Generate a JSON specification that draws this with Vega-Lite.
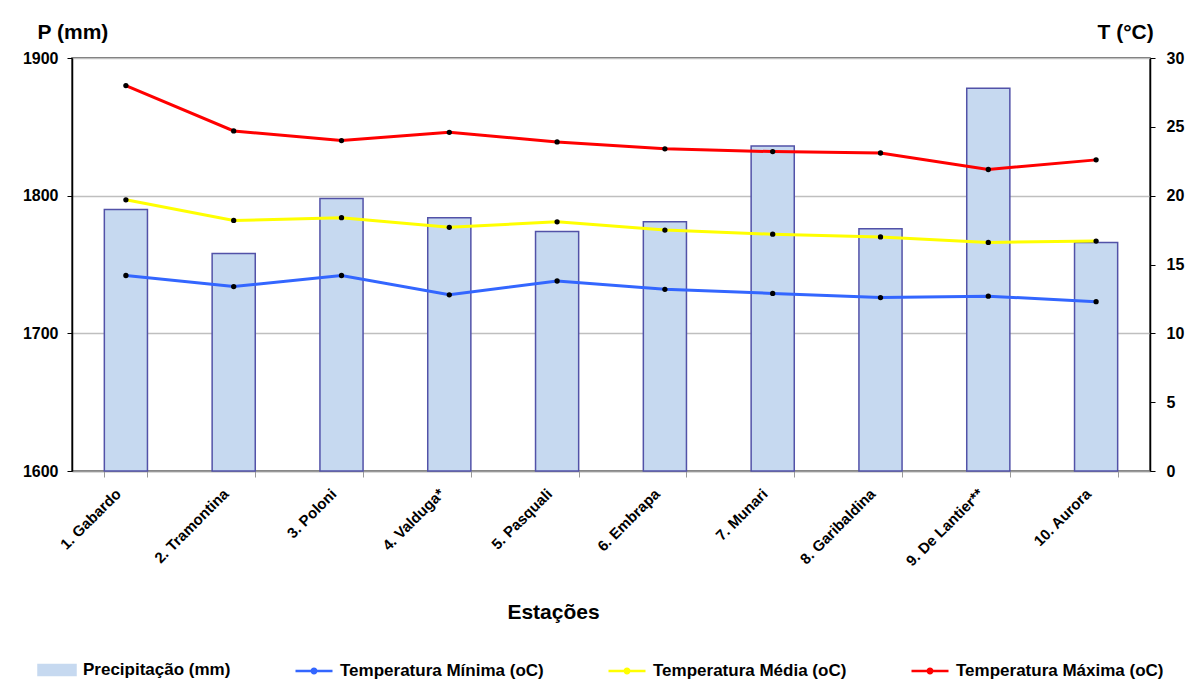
{
  "$schema": "https://vega.github.io/schema/vega-lite/v6.json",
  "width": 1078,
  "height": 413,
  "autosize": {"type": "none"},
  "padding": {"left": 72, "top": 58, "right": 43, "bottom": 226},
  "background": "white",
  "config": {
    "font": "Liberation Sans",
    "view": {"stroke": "#404040", "strokeWidth": 1.5},
    "axis": {
      "labelFont": "Liberation Sans",
      "labelFontWeight": "bold",
      "labelFontSize": 15,
      "labelColor": "black",
      "titleFont": "Liberation Sans",
      "titleFontWeight": "bold",
      "titleColor": "black"
    },
    "legend": {
      "labelFont": "Liberation Sans",
      "labelFontWeight": "bold",
      "labelFontSize": 17,
      "labelColor": "black",
      "symbolStrokeWidth": 2.5
    }
  },
  "datasets": {
    "precip": [
      {"station": "1. Gabardo", "precip": 1790},
      {"station": "2. Tramontina", "precip": 1758},
      {"station": "3. Poloni", "precip": 1798},
      {"station": "4. Valduga*", "precip": 1784},
      {"station": "5. Pasquali", "precip": 1774},
      {"station": "6. Embrapa", "precip": 1781},
      {"station": "7. Munari", "precip": 1836},
      {"station": "8. Garibaldina", "precip": 1776},
      {"station": "9. De Lantier**", "precip": 1878},
      {"station": "10. Aurora", "precip": 1766}
    ],
    "temp": [
      {"station": "1. Gabardo", "series": "Temperatura Mínima (oC)", "temp": 14.2},
      {"station": "2. Tramontina", "series": "Temperatura Mínima (oC)", "temp": 13.4},
      {"station": "3. Poloni", "series": "Temperatura Mínima (oC)", "temp": 14.2},
      {"station": "4. Valduga*", "series": "Temperatura Mínima (oC)", "temp": 12.8},
      {"station": "5. Pasquali", "series": "Temperatura Mínima (oC)", "temp": 13.8},
      {"station": "6. Embrapa", "series": "Temperatura Mínima (oC)", "temp": 13.2},
      {"station": "7. Munari", "series": "Temperatura Mínima (oC)", "temp": 12.9},
      {"station": "8. Garibaldina", "series": "Temperatura Mínima (oC)", "temp": 12.6},
      {"station": "9. De Lantier**", "series": "Temperatura Mínima (oC)", "temp": 12.7},
      {"station": "10. Aurora", "series": "Temperatura Mínima (oC)", "temp": 12.3},
      {"station": "1. Gabardo", "series": "Temperatura Média (oC)", "temp": 19.7},
      {"station": "2. Tramontina", "series": "Temperatura Média (oC)", "temp": 18.2},
      {"station": "3. Poloni", "series": "Temperatura Média (oC)", "temp": 18.4},
      {"station": "4. Valduga*", "series": "Temperatura Média (oC)", "temp": 17.7},
      {"station": "5. Pasquali", "series": "Temperatura Média (oC)", "temp": 18.1},
      {"station": "6. Embrapa", "series": "Temperatura Média (oC)", "temp": 17.5},
      {"station": "7. Munari", "series": "Temperatura Média (oC)", "temp": 17.2},
      {"station": "8. Garibaldina", "series": "Temperatura Média (oC)", "temp": 17.0},
      {"station": "9. De Lantier**", "series": "Temperatura Média (oC)", "temp": 16.6},
      {"station": "10. Aurora", "series": "Temperatura Média (oC)", "temp": 16.7},
      {"station": "1. Gabardo", "series": "Temperatura Máxima (oC)", "temp": 28.0},
      {"station": "2. Tramontina", "series": "Temperatura Máxima (oC)", "temp": 24.7},
      {"station": "3. Poloni", "series": "Temperatura Máxima (oC)", "temp": 24.0},
      {"station": "4. Valduga*", "series": "Temperatura Máxima (oC)", "temp": 24.6},
      {"station": "5. Pasquali", "series": "Temperatura Máxima (oC)", "temp": 23.9},
      {"station": "6. Embrapa", "series": "Temperatura Máxima (oC)", "temp": 23.4},
      {"station": "7. Munari", "series": "Temperatura Máxima (oC)", "temp": 23.2},
      {"station": "8. Garibaldina", "series": "Temperatura Máxima (oC)", "temp": 23.1},
      {"station": "9. De Lantier**", "series": "Temperatura Máxima (oC)", "temp": 21.9},
      {"station": "10. Aurora", "series": "Temperatura Máxima (oC)", "temp": 22.6}
    ]
  },
  "encoding": {
    "x": {
      "field": "station",
      "type": "nominal",
      "sort": null,
      "scale": {"paddingInner": 0.6, "paddingOuter": 0.3},
      "axis": {
        "title": "Estações",
        "titleFontSize": 21,
        "titleX": 481,
        "titleY": 141,
        "titleBaseline": "middle",
        "titleAlign": "center",
        "labelAngle": -45,
        "labelPadding": 9,
        "labelOffset": -13,
        "tickBand": "extent",
        "tickSize": 6,
        "tickColor": "#999999",
        "domainColor": "#999999",
        "domainWidth": 1.5,
        "grid": false
      }
    }
  },
  "layer": [
    {
      "data": {"name": "precip"},
      "mark": {"type": "bar", "stroke": "#5252A8", "strokeWidth": 1.5, "opacity": 1},
      "encoding": {
        "y": {
          "field": "precip",
          "type": "quantitative",
          "scale": {"domain": [1600, 1900], "nice": false, "zero": false},
          "axis": {
            "orient": "left",
            "values": [1600, 1700, 1800, 1900],
            "format": "d",
            "title": "P (mm)",
            "titleAngle": 0,
            "titleFontSize": 21,
            "titleAlign": "left",
            "titleBaseline": "middle",
            "titleX": -35,
            "titleY": -26,
            "labelFontSize": 16,
            "tickSize": 5,
            "tickColor": "black",
            "domainColor": "black",
            "domainWidth": 1.5,
            "labelPadding": 9,
            "grid": true,
            "gridColor": "#BFBFBF",
            "gridWidth": 1.5
          }
        },
        "y2": {"datum": 1600},
        "color": {
          "datum": "Precipitação (mm)",
          "type": "nominal",
          "scale": {
            "domain": ["Precipitação (mm)", "Temperatura Mínima (oC)", "Temperatura Média (oC)", "Temperatura Máxima (oC)"],
            "range": ["#C6D9F0", "#3366FF", "#FFFF00", "#FF0000"]
          },
          "legend": {
            "title": null,
            "orient": "none",
            "legendX": -35,
            "legendY": 592,
            "direction": "horizontal",
            "columns": 4,
            "columnPadding": 59,
            "labelOffset": 6,
            "labelLimit": 400,
            "symbolSize": 1369,
            "symbolType": "M-1,0H1",
            "encode": {
              "symbols": {
                "update": {
                  "shape": {"signal": "datum.value === 'Precipitação (mm)' ? 'M-1,-0.27H1V0.27H-1Z' : 'M-1,0H1M-0.12,0A0.12,0.12 0 1,0 0.12,0A0.12,0.12 0 1,0 -0.12,0'"},
                  "fill": {"signal": "datum.value === 'Precipitação (mm)' ? '#C6D9F0' : 'black'"},
                  "stroke": {"signal": "datum.value === 'Precipitação (mm)' ? '#5252A8' : scale('color', datum.value)"},
                  "opacity": {"value": 1}
                }
              }
            }
          }
        }
      }
    },
    {
      "data": {"name": "temp"},
      "encoding": {
        "y": {
          "field": "temp",
          "type": "quantitative",
          "scale": {"domain": [0, 30], "nice": false},
          "axis": {
            "orient": "right",
            "values": [0, 5, 10, 15, 20, 25, 30],
            "title": "T (°C)",
            "titleAngle": 0,
            "titleFontSize": 21,
            "titleAlign": "left",
            "titleBaseline": "middle",
            "titleX": -53,
            "titleY": -26,
            "labelFontSize": 16,
            "tickSize": 5,
            "tickColor": "black",
            "domainColor": "black",
            "domainWidth": 1.5,
            "labelPadding": 11,
            "grid": false
          }
        }
      },
      "layer": [
        {
          "mark": {"type": "line", "strokeWidth": 3},
          "encoding": {
            "color": {
              "field": "series",
              "type": "nominal",
              "legend": {
                "title": null,
                "orient": "none",
                "legendX": -35,
                "legendY": 592,
                "direction": "horizontal",
                "columns": 4,
                "columnPadding": 59,
                "labelOffset": 6,
                "labelLimit": 400,
                "symbolSize": 1369,
                "symbolType": "M-1,0H1",
                "encode": {
                  "symbols": {
                    "update": {
                      "shape": {"signal": "datum.value === 'Precipitação (mm)' ? 'M-1,-0.27H1V0.27H-1Z' : 'M-1,0H1M-0.12,0A0.12,0.12 0 1,0 0.12,0A0.12,0.12 0 1,0 -0.12,0'"},
                      "fill": {"signal": "datum.value === 'Precipitação (mm)' ? '#C6D9F0' : 'black'"},
                      "stroke": {"signal": "datum.value === 'Precipitação (mm)' ? '#5252A8' : scale('color', datum.value)"},
                      "opacity": {"value": 1}
                    }
                  }
                }
              }
            }
          }
        },
        {
          "mark": {"type": "point", "filled": true, "color": "black", "size": 28, "opacity": 1},
          "encoding": {"detail": {"field": "series", "type": "nominal"}}
        }
      ]
    }
  ],
  "resolve": {"scale": {"y": "independent"}}
}
